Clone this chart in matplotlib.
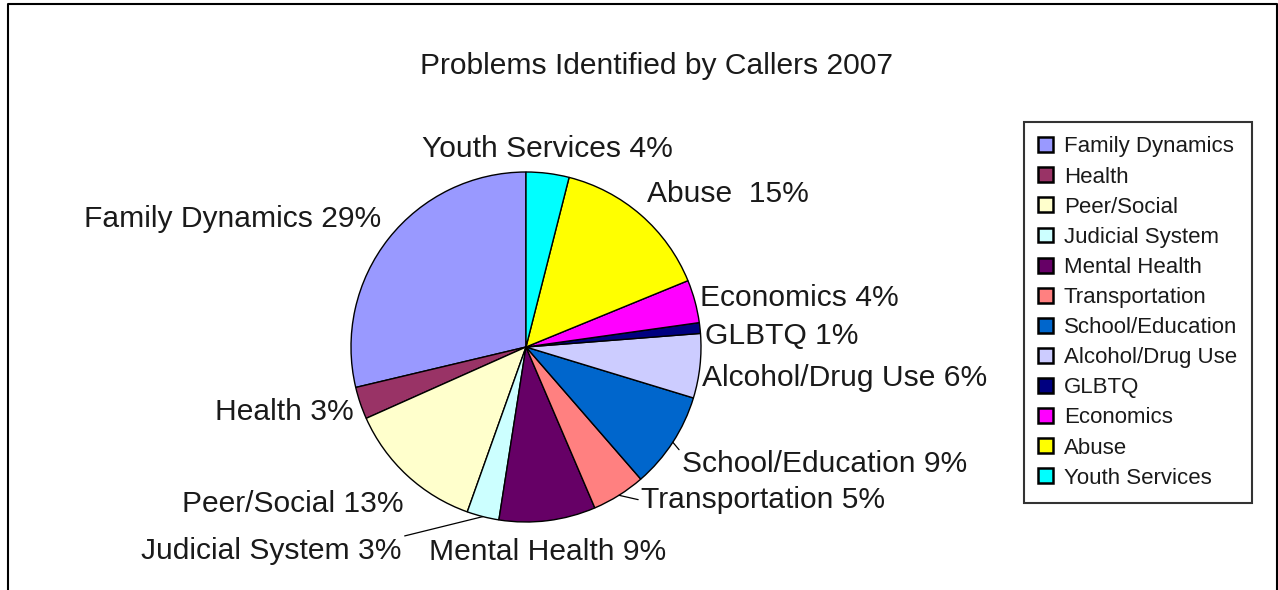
import numpy as np
import matplotlib.pyplot as plt
from matplotlib.patches import Patch
from matplotlib.lines import Line2D

plt.rcParams['font.family'] = ['Liberation Sans', 'DejaVu Sans']

categories = ['Family Dynamics', 'Health', 'Peer/Social', 'Judicial System',
              'Mental Health', 'Transportation', 'School/Education',
              'Alcohol/Drug Use', 'GLBTQ', 'Economics', 'Abuse', 'Youth Services']
shares = [29, 3, 13, 3, 9, 5, 9, 6, 1, 4, 15, 4]
pie_labels = ['Family Dynamics 29%', 'Health 3%', 'Peer/Social 13%', 'Judicial System 3%',
              'Mental Health 9%', 'Transportation 5%', 'School/Education 9%',
              'Alcohol/Drug Use 6%', 'GLBTQ 1%', 'Economics 4%', 'Abuse  15%',
              'Youth Services 4%']
colors = ['#9999FF', '#993366', '#FFFFCC', '#CCFFFF', '#660066', '#FF8080',
          '#0066CC', '#CCCCFF', '#000080', '#FF00FF', '#FFFF00', '#00FFFF']

# label placement: pixel offset from wedge edge (y down), alignment, leader relpos
label_layout = [
    (-7, -19, 'right', None),
    (-7, 9, 'right', None),
    (-4, 29, 'right', None),
    (-81, 34, 'right', (1, 1)),
    (0, 31, 'center', None),
    (22, 5, 'left', (0, 0.5)),
    (9, 22, 'left', (0, 0.9)),
    (2, 12, 'left', None),
    (5, 8, 'left', None),
    (5, -3, 'left', None),
    (6, -21, 'left', None),
    (0, -24, 'center', None),
]

W, H = 1278, 590
fig = plt.figure(figsize=(W / 100, H / 100), dpi=100)
ax = fig.add_axes([0, 0, 1, 1])

cx, cy, r = 526, H - 347, 175
wedges, _ = ax.pie(shares, colors=colors, startangle=90, counterclock=True,
                   center=(cx, cy), radius=r,
                   wedgeprops={'edgecolor': 'black', 'linewidth': 1})
ax.set_xlim(0, W)
ax.set_ylim(0, H)
ax.set_aspect('auto')
ax.axis('off')

txt_color = '#1a1a1a'
for w, lab, (dx, dy, ha, rel) in zip(wedges, pie_labels, label_layout):
    mid = np.deg2rad((w.theta1 + w.theta2) / 2)
    px, py = cx + r * np.cos(mid), cy + r * np.sin(mid)
    kw = {}
    if rel is not None:
        kw['arrowprops'] = dict(arrowstyle='-', color='black', lw=0.9,
                                shrinkA=0, shrinkB=0, relpos=rel)
    ax.annotate(lab, xy=(px, py), xytext=(dx, -dy), textcoords='offset pixels',
                ha=ha, va='center', fontsize=21.6, color=txt_color, **kw)

fig.text(656 / W, 1 - 66 / H, 'Problems Identified by Callers 2007',
         ha='center', va='center', fontsize=21.6, color=txt_color)

# outer frame (open at the bottom)
fig.add_artist(Line2D([8 / W, 8 / W, 1277 / W, 1277 / W], [0, 1 - 4 / H, 1 - 4 / H, 0],
                      transform=fig.transFigure, color='black', lw=1.5))

handles = [Patch(facecolor=c, edgecolor='black', linewidth=1.8) for c in colors]
leg = fig.legend(handles, categories, loc='upper left',
                 bbox_to_anchor=(1024 / W, 1 - 122 / H), bbox_transform=fig.transFigure,
                 fontsize=16, frameon=True, fancybox=False, framealpha=1,
                 edgecolor='#333333', handlelength=0.65, handleheight=0.65,
                 handletextpad=0.5, labelspacing=0.41, borderpad=0.65,
                 borderaxespad=0)
leg.get_frame().set_linewidth(1.5)
for t in leg.get_texts():
    t.set_color(txt_color)

fig.savefig('out.png', dpi=100)
